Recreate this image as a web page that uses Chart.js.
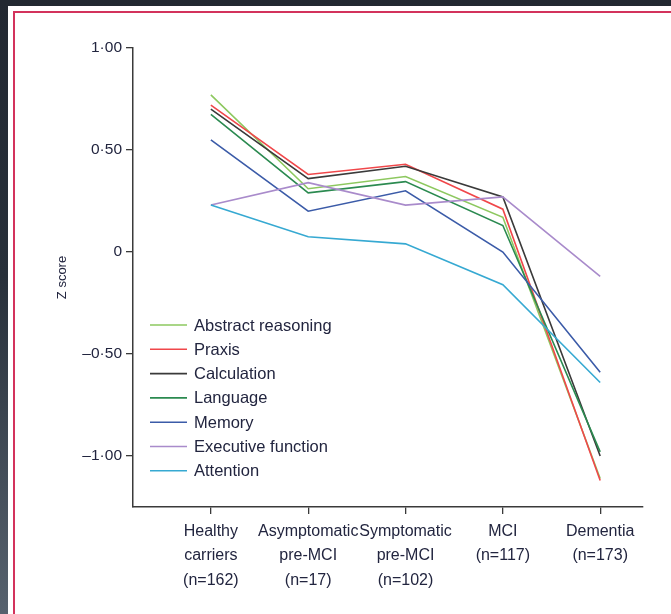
<!DOCTYPE html>
<html>
<head>
<meta charset="utf-8">
<script src="https://cdn.jsdelivr.net/npm/chart.js@4"></script>
<style>
  html, body { margin: 0; padding: 0; width: 671px; height: 614px; overflow: hidden;
    background: linear-gradient(#222831, #28303a 45%, #57626e); }
  #panel { position: absolute; left: 8px; top: 6px; right: -10px; bottom: -10px; background: #fff; }
  #frame { position: absolute; left: 13px; top: 11px; right: -10px; bottom: -10px;
    border-left: 2px solid #d3325c; border-top: 2px solid #d3325c; }
  #wrap { position: absolute; left: 0; top: 0; width: 671px; height: 614px; }
</style>
</head>
<body>
<div id="panel"></div>
<div id="frame"></div>
<div id="wrap"><canvas id="chart" width="671" height="614"></canvas></div>
<script>
/* Cognitive domain Z scores by clinical stage */
var groups = [
  ["Healthy", "carriers", "(n=162)"],
  ["Asymptomatic", "pre-MCI", "(n=17)"],
  ["Symptomatic", "pre-MCI", "(n=102)"],
  ["MCI", "(n=117)"],
  ["Dementia", "(n=173)"]
];
var yTicks = [-1, -0.5, 0, 0.5, 1];
var yTickLabels = ["\u20131\u00b700", "\u20130\u00b750", "0", "0\u00b750", "1\u00b700"];

var abstractReasoning = [0.77, 0.31, 0.37, 0.17, -1.11];
var praxis            = [0.72, 0.38, 0.43, 0.21, -1.12];
var calculation       = [0.70, 0.36, 0.42, 0.27, -1.00];
var language          = [0.675, 0.29, 0.345, 0.13, -0.98];
var memory            = [0.55, 0.20, 0.30, 0.00, -0.59];
var executive         = [0.23, 0.34, 0.23, 0.27, -0.12];
var attention         = [0.23, 0.075, 0.04, -0.16, -0.64];

var seriesNames = ["Abstract reasoning", "Praxis", "Calculation", "Language", "Memory", "Executive function", "Attention"];
var seriesValues = [abstractReasoning, praxis, calculation, language, memory, executive, attention];
var seriesColors = ["#8dc85f", "#f0474a", "#3a3a3a", "#2b8a50", "#3b5ba8", "#a98bcb", "#36a9d2"];

var ink = "#22253f";
var fontFamily = "'Liberation Sans', Arial, sans-serif";

function toPoints(values) {
  return values.map(function (v, i) { return { x: i, y: v }; });
}

var datasets = seriesNames.map(function (name, i) {
  return {
    label: name,
    data: toPoints(seriesValues[i]),
    borderColor: seriesColors[i],
    backgroundColor: seriesColors[i],
    borderWidth: 1.6,
    pointRadius: 0,
    tension: 0,
    fill: false
  };
}).reverse();

// legend drawn inside the plot, left side of the lower half
var innerLegend = {
  id: "innerLegend",
  afterDatasetsDraw: function (chart) {
    var ctx = chart.ctx, a = chart.chartArea;
    ctx.save();
    ctx.font = "16.5px " + fontFamily;
    ctx.textBaseline = "middle";
    ctx.textAlign = "left";
    seriesNames.forEach(function (name, i) {
      var y = a.top + 277 + i * 24.3;
      ctx.strokeStyle = seriesColors[i];
      ctx.lineWidth = 1.6;
      ctx.beginPath();
      ctx.moveTo(a.left + 17, y);
      ctx.lineTo(a.left + 54, y);
      ctx.stroke();
      ctx.fillStyle = ink;
      ctx.fillText(name, a.left + 61, y + 1);
    });
    ctx.restore();
  }
};

new Chart(document.getElementById("chart").getContext("2d"), {
  type: "line",
  data: { datasets: datasets },
  plugins: [innerLegend],
  options: {
    responsive: false,
    animation: false,
    layout: { padding: { left: 55, right: 28, top: 48, bottom: 0 } },
    plugins: { legend: { display: false }, tooltip: { enabled: false } },
    scales: {
      x: {
        type: "linear",
        min: -0.8,
        max: 4.44,
        afterBuildTicks: function (s) { s.ticks = groups.map(function (g, i) { return { value: i }; }); },
        afterFit: function (s) { s.height = 107; },
        grid: { drawOnChartArea: false, drawTicks: true, tickLength: 7, color: "#3a3a3a", lineWidth: 1.3 },
        border: { display: true, color: "#3a3a3a", width: 1.5 },
        ticks: {
          autoSkip: false,
          maxRotation: 0,
          padding: 5,
          color: ink,
          font: { family: fontFamily, size: 16, lineHeight: 1.53 },
          callback: function (v) { return groups[v]; }
        }
      },
      y: {
        min: -1.25,
        max: 1,
        afterBuildTicks: function (s) { s.ticks = yTicks.map(function (v) { return { value: v }; }); },
        afterFit: function (s) { s.width = 78; },
        grid: { drawOnChartArea: false, drawTicks: true, tickLength: 7, color: "#3a3a3a", lineWidth: 1.3 },
        border: { display: true, color: "#3a3a3a", width: 1.5 },
        ticks: {
          padding: 4,
          color: ink,
          font: { family: fontFamily, size: 15.5 },
          callback: function (v) { return yTickLabels[yTicks.indexOf(v)]; }
        },
        title: {
          display: true,
          text: "Z score",
          color: ink,
          padding: 0,
          font: { family: fontFamily, size: 13 }
        }
      }
    }
  }
});
</script>
</body>
</html>
